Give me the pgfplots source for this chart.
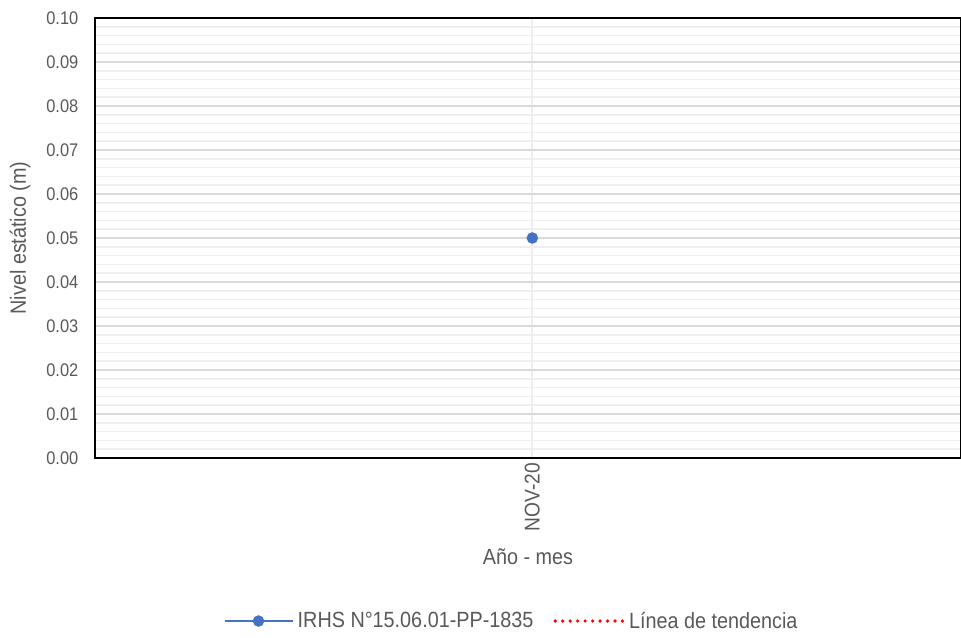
\documentclass[border=0pt]{standalone}
\usepackage{fontspec}
\setmainfont{Liberation Sans}[FakeStretch=0.9]
\usepackage{pgfplots}
\pgfplotsset{compat=1.18}
\definecolor{excelblue}{HTML}{4472C4}
\definecolor{txtgray}{HTML}{595959}
\definecolor{majgrid}{HTML}{D9D9D9}
\definecolor{mingrid}{HTML}{EEEEEE}
\begin{document}
\begin{tikzpicture}
\useasboundingbox (-71.25pt,-134.25pt) rectangle (649.5pt,343.5pt);
\begin{axis}[
  at={(0,0)}, anchor=south west,
  scale only axis,
  width=649.5pt, height=330pt,
  xmin=-0.505, xmax=0.495,
  ymin=0, ymax=0.1,
  ytick={0,0.01,...,0.1},
  minor y tick num=4,
  xtick={0}, xticklabels={NOV-20},
  x tick label style={rotate=90, anchor=east, font=\fontsize{16}{18}\selectfont, text=txtgray},
  y tick label style={font=\fontsize{13.7}{15}\selectfont, text=txtgray, xshift=-9pt},
  /pgf/number format/assume math mode=true,
  yticklabel style={/pgf/number format/.cd, fixed, fixed zerofill, precision=2},
  ymajorgrids, yminorgrids, xmajorgrids,
  major grid style={majgrid, line width=1.3pt},
  minor grid style={mingrid, line width=1.3pt},
  x grid style={mingrid, line width=1.3pt},
  major tick length=0pt, minor tick length=0pt,
  axis line style={black, line width=1.1pt},
  xlabel={Año - mes},
  ylabel={Nivel estático (m)},
  label style={font=\fontsize{16.5}{18}\selectfont, text=txtgray},
  xlabel style={at={(axis description cs:0.5,-0.225)}, anchor=center},
  ylabel style={at={(axis description cs:-0.0866,0.5)}, anchor=center},
  legend image code/.code={\draw[mark repeat=2, mark phase=2, #1] plot coordinates {(0pt,0pt) (25.5pt,0pt) (51pt,0pt)};},
  legend style={draw=none, fill=none, at={(axis description cs:0.482,-0.3705)}, anchor=center,
    font=\fontsize{16.5}{18}\selectfont, text=txtgray, legend columns=2,
    /tikz/every even column/.append style={column sep=12pt},
    nodes={inner xsep=3pt}},
  legend cell align=left,
]
\addplot[excelblue, line width=1.8pt, mark=*, mark size=4.1pt, mark options={solid, fill=excelblue, draw=excelblue, line width=0.4pt}]
  coordinates {(0,0.05)};
\addlegendentry{IRHS N°15.06.01-PP-1835}
\addlegendimage{red, line width=2.7pt, line cap=round, dash pattern=on 0pt off 5.6pt}
\addlegendentry{Línea de tendencia}
\end{axis}
\end{tikzpicture}
\end{document}
